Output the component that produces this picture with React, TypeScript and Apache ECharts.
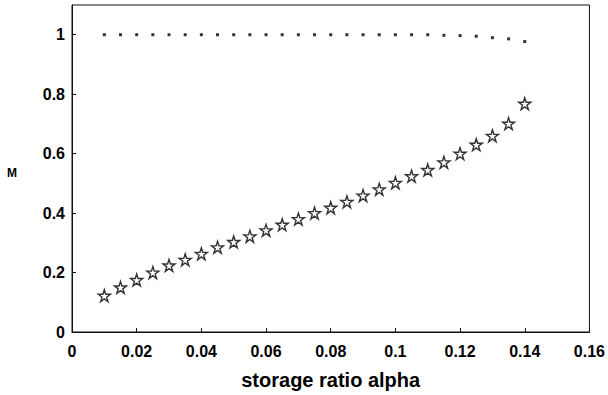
import React, { useEffect, useRef } from "react";
import * as echarts from "echarts";

const alphas: number[] = [
  0.01, 0.015, 0.02, 0.025, 0.03, 0.035, 0.04, 0.045, 0.05, 0.055, 0.06, 0.065, 0.07,
  0.075, 0.08, 0.085, 0.09, 0.095, 0.1, 0.105, 0.11, 0.115, 0.12, 0.125, 0.13, 0.135, 0.14,
];
const dotValues: number[] = [
  1, 1, 1, 1, 1, 1, 1, 1, 1, 1, 1, 1, 1, 1, 1, 1, 1, 1, 1, 1, 1, 0.998, 0.997, 0.995, 0.99,
  0.986, 0.977,
];
const starValues: number[] = [
  0.122, 0.15, 0.175, 0.2, 0.224, 0.243, 0.263, 0.285, 0.303, 0.322, 0.342, 0.361, 0.38,
  0.4, 0.418, 0.438, 0.459, 0.48, 0.502, 0.524, 0.545, 0.571, 0.6, 0.63, 0.66, 0.701, 0.768,
];
const xTicks = { min: 0, max: 0.16, interval: 0.02 };
const yTicks = { min: 0, max: 1.1, interval: 0.2 };

const STAR =
  "path://M50 0 L61.2 34.5 L97.6 34.5 L68.2 55.9 L79.4 90.5 L50 69.1 L20.6 90.5 L31.8 55.9 L2.4 34.5 L38.8 34.5 Z";

const FONT = "'Liberation Sans', Arial, sans-serif";

export default function App() {
  const ref = useRef<HTMLDivElement>(null);
  useEffect(() => {
    if (!ref.current) return;
    const chart = echarts.init(ref.current, undefined, { renderer: "svg" });
    const fmt = (v: number) => String(+v.toFixed(2));
    chart.setOption({
      animation: false,
      backgroundColor: "#fff",
      grid: {
        left: 72,
        top: 5,
        right: 17,
        bottom: 61,
        show: true,
        borderColor: "#111",
        borderWidth: 1,
        backgroundColor: "transparent",
      },
      xAxis: {
        type: "value",
        min: xTicks.min,
        max: xTicks.max,
        interval: xTicks.interval,
        name: "storage ratio alpha",
        nameLocation: "middle",
        nameGap: 38,
        nameTextStyle: { fontFamily: FONT, fontSize: 20, fontWeight: "bold", color: "#000" },
        axisLine: { show: true, lineStyle: { color: "#111", width: 1 } },
        axisTick: { show: true, inside: true, length: 4, lineStyle: { color: "#111" } },
        splitLine: { show: false },
        axisLabel: {
          margin: 11,
          fontFamily: FONT,
          fontSize: 16,
          fontWeight: "bold",
          color: "#000",
          formatter: fmt,
        },
      },
      yAxis: {
        type: "value",
        min: yTicks.min,
        max: yTicks.max,
        interval: yTicks.interval,
        axisLine: { show: true, lineStyle: { color: "#111", width: 1 } },
        axisTick: { show: true, inside: true, length: 4, lineStyle: { color: "#111" } },
        splitLine: { show: false },
        axisLabel: {
          margin: 7,
          fontFamily: FONT,
          fontSize: 16,
          fontWeight: "bold",
          color: "#000",
          showMaxLabel: false,
          formatter: fmt,
        },
      },
      graphic: [
        {
          type: "text",
          left: 7,
          top: 167,
          style: { text: "M", fontFamily: FONT, fontSize: 12, fontWeight: "bold", fill: "#000" },
        },
      ],
      series: [
        {
          type: "scatter",
          data: alphas.map((a, i) => [a, dotValues[i]]),
          symbol: "rect",
          symbolSize: 3,
          itemStyle: { color: "#000" },
        },
        {
          type: "scatter",
          data: alphas.map((a, i) => [a, starValues[i]]),
          symbol: STAR,
          symbolSize: 12,
          itemStyle: { color: "rgba(0,0,0,0)", borderColor: "#000", borderWidth: 1.4 },
        },
      ],
    });
    return () => chart.dispose();
  }, []);
  return <div ref={ref} style={{ width: 608, height: 395, position: "absolute", left: 0, top: 0 }} />;
}
